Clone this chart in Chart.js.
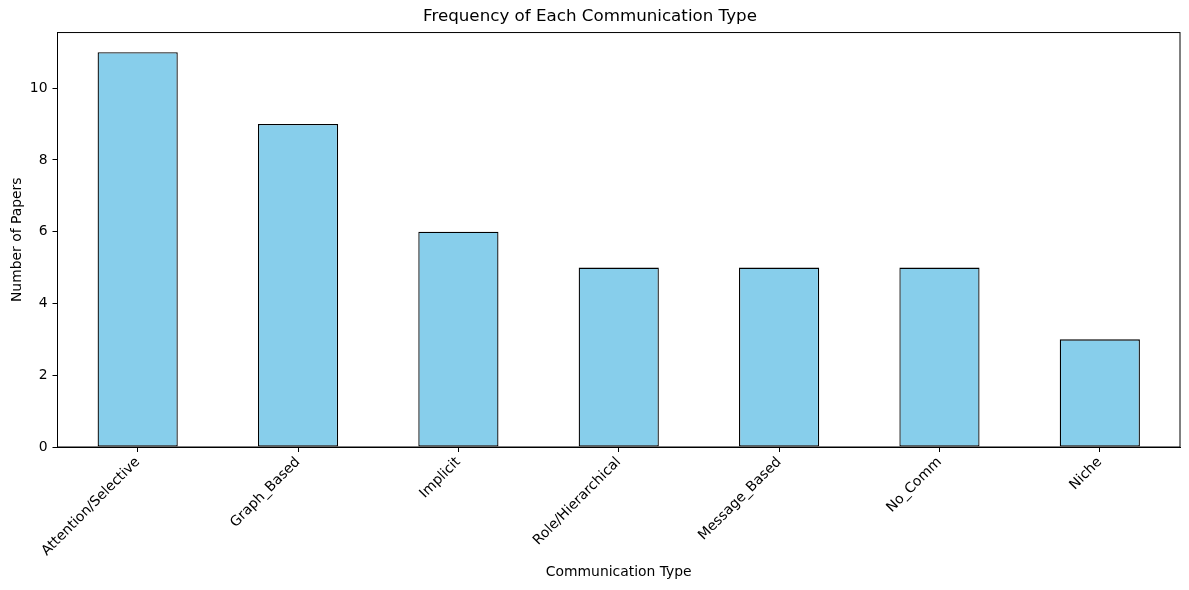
<!DOCTYPE html>
<html>
<head>
<meta charset="utf-8">
<script src="https://cdn.jsdelivr.net/npm/chart.js@4/dist/chart.umd.min.js"></script>
<style>
  html, body { margin: 0; padding: 0; background: #fff; }
  #wrap { width: 1189px; height: 590px; }
</style>
</head>
<body>
<div id="wrap"><canvas id="chart"></canvas></div>
<script>
const CATEGORIES = ['Attention/Selective', 'Graph_Based', 'Implicit', 'Role/Hierarchical', 'Message_Based', 'No_Comm', 'Niche'];
const PAPER_COUNTS = [11, 9, 6, 5, 5, 5, 3];
const Y_MAX = 11.55;

Chart.defaults.font.family = '"DejaVu Sans", sans-serif';
Chart.defaults.font.size = 13.9;
Chart.defaults.color = '#000';

// draw the top and right spines like matplotlib
const frame = {
  id: 'frame',
  afterDraw(chart) {
    const { ctx, chartArea: a } = chart;
    ctx.save();
    ctx.strokeStyle = '#000';
    ctx.lineWidth = 1;
    ctx.strokeRect(a.left, a.top, a.right - a.left, a.bottom - a.top);
    ctx.restore();
  }
};

new Chart(document.getElementById('chart'), {
  type: 'bar',
  data: {
    labels: CATEGORIES,
    datasets: [{
      data: PAPER_COUNTS,
      backgroundColor: '#87CEEB',
      borderColor: '#000',
      borderWidth: 1.3,
      borderSkipped: false,
      barPercentage: 0.5,
      categoryPercentage: 1.0
    }]
  },
  options: {
    responsive: true,
    maintainAspectRatio: false,
    animation: false,
    layout: { padding: { left: 0, right: 9, top: 0, bottom: 0 } },
    plugins: {
      legend: { display: false },
      tooltip: { enabled: false },
      title: {
        display: true,
        text: 'Frequency of Each Communication Type',
        font: { size: 16.7, weight: 'normal' },
        padding: { top: 7, bottom: 5.5 }
      }
    },
    scales: {
      x: {
        grid: { offset: false, drawOnChartArea: false, drawTicks: true, tickLength: 5, color: '#000' },
        border: { display: true, color: '#000' },
        ticks: { autoSkip: false, minRotation: 45, maxRotation: 45, padding: 2 },
        title: { display: true, text: 'Communication Type', padding: { top: 0, bottom: 9.7 } },
        afterFit(s) { s.height = 143; }
      },
      y: {
        min: 0,
        max: Y_MAX,
        grid: { drawOnChartArea: false, drawTicks: true, tickLength: 5, color: '#000' },
        border: { display: true, color: '#000' },
        ticks: { stepSize: 2, includeBounds: false, padding: 5 },
        title: { display: true, text: 'Number of Papers', padding: { top: 8.7, bottom: 0 } },
        afterFit(s) { s.width = 57.5; }
      }
    }
  },
  plugins: [frame]
});
</script>
</body>
</html>
